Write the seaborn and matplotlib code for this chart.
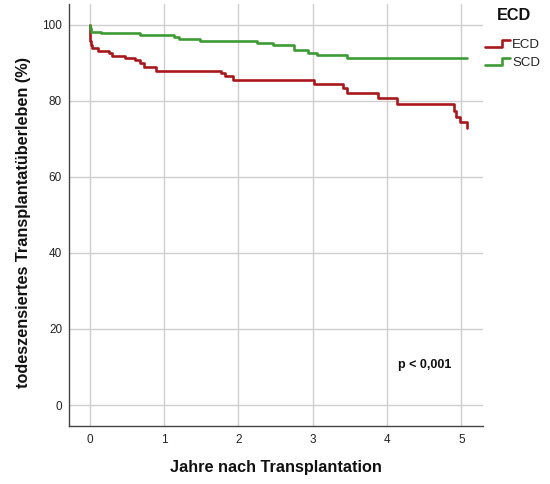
import matplotlib
matplotlib.use("Agg")
import matplotlib.pyplot as plt
import seaborn as sns
import pandas as pd
from matplotlib.lines import Line2D
from matplotlib.legend_handler import HandlerBase

# Kaplan-Meier step estimates (years after transplantation, graft survival in %)
ecd_time = [0.0, 0.003, 0.008, 0.015, 0.025, 0.108, 0.258, 0.296, 0.48, 0.602,
            0.669, 0.723, 0.894, 1.763, 1.82, 1.93, 3.017, 3.41, 3.457, 3.88,
            4.14, 4.905, 4.925, 4.98, 5.07]
ecd_surv = [100.0, 97.6, 95.8, 94.7, 93.8, 93.0, 92.4, 91.8, 91.2, 90.6,
            90.0, 88.8, 87.9, 87.3, 86.6, 85.5, 84.5, 83.2, 82.0, 80.6,
            79.1, 77.3, 75.7, 74.4, 72.7]

scd_time = [0.0, 0.005, 0.02, 0.155, 0.679, 1.136, 1.194, 1.476, 2.245, 2.46,
            2.753, 2.933, 3.054, 3.465, 5.07]
scd_surv = [100.0, 99.0, 98.1, 97.7, 97.2, 96.8, 96.3, 95.7, 95.2, 94.7,
            93.3, 92.6, 92.0, 91.2, 91.2]

groups = ["ECD", "SCD"]
colors = {"ECD": "#a8181b", "SCD": "#3d9b35"}

x_ticks = [0, 1, 2, 3, 4, 5]
y_ticks = [0, 20, 40, 60, 80, 100]

df = pd.concat([
    pd.DataFrame({"Jahre": ecd_time, "Ueberleben": ecd_surv, "Gruppe": "ECD"}),
    pd.DataFrame({"Jahre": scd_time, "Ueberleben": scd_surv, "Gruppe": "SCD"}),
], ignore_index=True)

sns.set_theme(style="white")
plt.rcParams["font.family"] = ["Liberation Sans", "DejaVu Sans"]

fig = plt.figure(figsize=(5.5, 4.84), dpi=100)
ax = fig.add_axes([0.1255, 0.1198, 0.7525, 0.872])

sns.lineplot(data=df, x="Jahre", y="Ueberleben", hue="Gruppe", hue_order=groups,
             palette=colors, estimator=None, sort=False, drawstyle="steps-post",
             linewidth=1.9, legend=False, ax=ax, zorder=3)

ax.set_xlim(-0.28, 5.29)
ax.set_ylim(-5.5, 105.4)
ax.set_xticks(x_ticks)
ax.set_yticks(y_ticks)
ax.set_xticklabels([str(v) for v in x_ticks])
ax.set_yticklabels([str(v) for v in y_ticks])
ax.tick_params(axis="both", length=0, labelsize=8.5, colors="#222222")
ax.tick_params(axis="x", pad=6)
ax.tick_params(axis="y", pad=5)

ax.grid(True, color="#cfcfcf", linewidth=1.0, zorder=0)
for side in ("top", "right"):
    ax.spines[side].set_visible(False)
for side in ("left", "bottom"):
    ax.spines[side].set_color("#444444")
    ax.spines[side].set_linewidth(1.0)

ax.set_xlabel("Jahre nach Transplantation", fontsize=11.7, fontweight="bold",
              labelpad=10, color="#111111")
ax.set_ylabel("todeszensiertes Transplantatüberleben (%)", fontsize=11.7,
              fontweight="bold", color="#111111")
ax.yaxis.set_label_coords(-0.093, 0.483)

ax.text(4.51, 10.5, "p < 0,001", fontsize=9, fontweight="bold",
        ha="center", va="center", color="#111111")


class StepHandler(HandlerBase):
    """Draws a small step shape as legend key."""

    def create_artists(self, legend, orig_handle, xdescent, ydescent,
                       width, height, fontsize, trans):
        x0 = -xdescent
        xs = [x0, x0 + 0.68 * width, x0 + 0.68 * width, x0 + width]
        y_lo = -ydescent + 0.15 * height
        y_hi = -ydescent + 0.85 * height
        ys = [y_lo, y_lo, y_hi, y_hi]
        line = Line2D(xs, ys, color=orig_handle.get_color(),
                      linewidth=orig_handle.get_linewidth())
        line.set_transform(trans)
        return [line]


# legend heading
fig.text(0.9036, 1 - 16 / 484, "ECD", fontsize=11.7, fontweight="bold",
         ha="left", va="center", color="#111111")

handles = [Line2D([], [], color=colors[g], linewidth=1.9) for g in groups]
leg = fig.legend(handles, groups, loc="upper left",
                 bbox_to_anchor=(0.882, 1 - 39 / 484), frameon=False,
                 fontsize=9.5, handlelength=1.9, borderpad=0,
                 handletextpad=0.15, labelspacing=0.44, borderaxespad=0,
                 handler_map={Line2D: StepHandler()})
for t in leg.get_texts():
    t.set_color("#222222")

fig.savefig("out.png", dpi=100)
